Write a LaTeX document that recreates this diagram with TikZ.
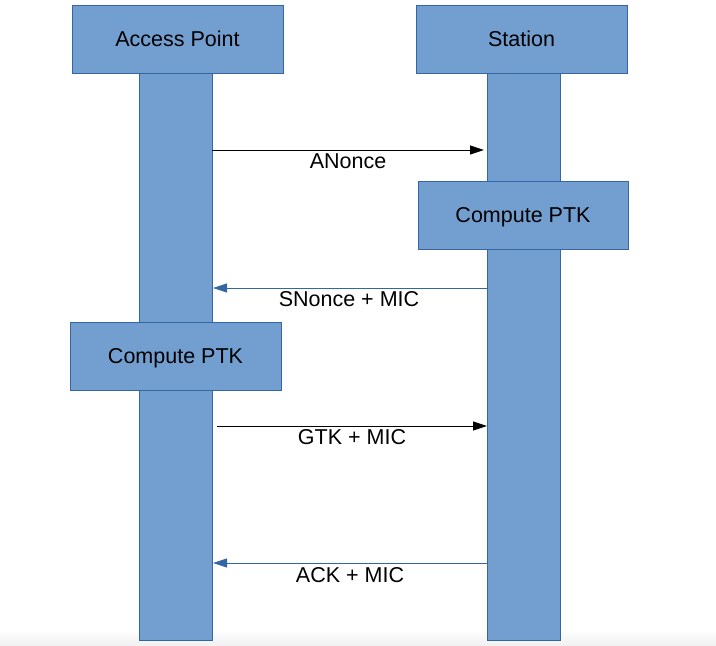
\documentclass[tikz,border=0pt]{standalone}
\usepackage{fontspec}
\setmainfont{Liberation Sans}
\usetikzlibrary{arrows.meta}
\definecolor{boxfill}{HTML}{729FCF}
\definecolor{boxline}{HTML}{3465A4}
\begin{document}
\begin{tikzpicture}[x=1pt,y=-1pt,
  every node/.style={font=\fontsize{21.5}{25}\selectfont, text height=15.4pt, text depth=0pt},
  bar/.style={draw=boxline, line width=0.8pt, fill=boxfill, inner sep=0pt, minimum width=73pt},
  actor/.style={draw=boxline, line width=0.8pt, fill=boxfill, inner sep=0pt, minimum width=211pt, minimum height=68pt},
  lbl/.style={inner sep=0pt},
  msgk/.style={line width=0.8pt, black, -{Triangle[length=14pt,width=9pt]}},
  msgb/.style={line width=0.8pt, boxline, -{Triangle[length=14pt,width=9pt]}}]
\useasboundingbox (0,0) rectangle (716,646);
\shade[top color=white, bottom color=black!6] (0,630) rectangle (716,646);
% lifeline bars
\node[bar, minimum height=567pt] (apbar) at (175.5,356.5) {};
\node[bar, minimum height=567pt] (stbar) at (523.5,356.5) {};
% heads
\node[actor] (ap) at (177.5,39) {Access Point};
\node[actor] (st) at (521.5,39) {Station};
% compute boxes
\node[actor, minimum width=210pt] (cst) at (523,215) {Compute PTK};
\node[actor] (cap) at (175.5,356) {Compute PTK};
% message endpoints
\coordinate (a1) at (212,150);
\coordinate (b1) at (484,150);
\coordinate (a2) at (487,288);
\coordinate (b2) at (213,288);
\coordinate (a3) at (217,426);
\coordinate (b3) at (487,426);
\coordinate (a4) at (487,563);
\coordinate (b4) at (213,563);
\draw[msgk] (a1) -- (b1);
\draw[msgb] (a2) -- (b2);
\draw[msgk] (a3) -- (b3);
\draw[msgb] (a4) -- (b4);
\node[lbl] (l1) at (348,161) {ANonce};
\node[lbl] (l2) at (349,299) {SNonce + MIC};
\node[lbl] (l3) at (352,437) {GTK + MIC};
\node[lbl] (l4) at (350,575) {ACK + MIC};
\end{tikzpicture}
\end{document}
